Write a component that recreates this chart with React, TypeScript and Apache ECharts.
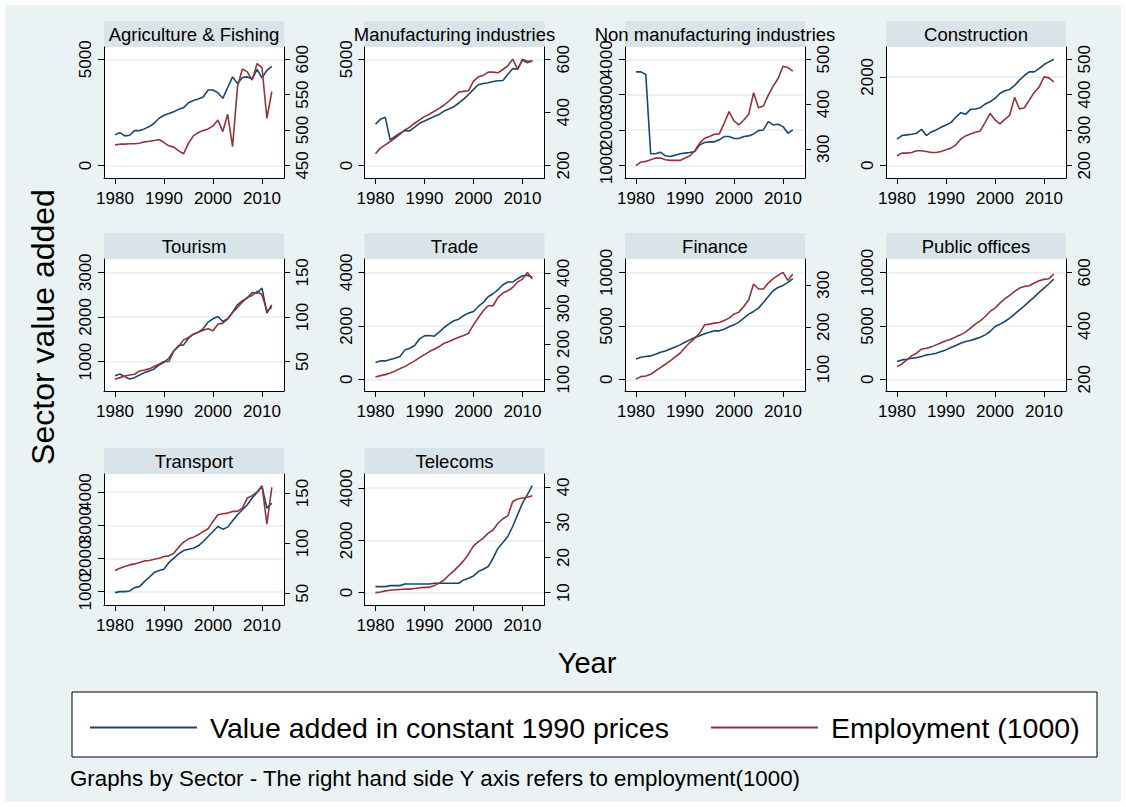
import React, { useEffect, useRef } from "react";
import * as echarts from "echarts";

// Observation years
const YEARS = [
  1980, 1981, 1982, 1983, 1984, 1985, 1986, 1987, 1988, 1989, 1990,
  1991, 1992, 1993, 1994, 1995, 1996, 1997, 1998, 1999, 2000,
  2001, 2002, 2003, 2004, 2005, 2006, 2007, 2008, 2009, 2010,
  2011, 2012,
];
const YEAR_TICKS = [1980, 1990, 2000, 2010];

const SECTOR_NAMES = [
  "Agriculture & Fishing",
  "Manufacturing industries",
  "Non manufacturing industries",
  "Construction",
  "Tourism",
  "Trade",
  "Finance",
  "Public offices",
  "Transport",
  "Telecoms",
];

// Value added in constant 1990 prices, by sector
const vaAgriculture = [1437, 1547, 1390, 1420, 1640, 1640, 1720, 1830, 1985, 2220, 2360, 2440, 2530, 2640, 2720, 2950, 3060, 3125, 3220, 3550, 3550, 3420, 3160, 3670, 4170, 3860, 4140, 4170, 4080, 4520, 4125, 4480, 4670];
const vaManufacturing = [1940, 2170, 2265, 1200, 1360, 1515, 1640, 1625, 1800, 1985, 2090, 2200, 2300, 2400, 2560, 2660, 2765, 2940, 3125, 3340, 3580, 3800, 3860, 3890, 3950, 3985, 4000, 4280, 4560, 4530, 5000, 4900, 4900];
const vaNonManufacturing = [3644, 3644, 3569, 1328, 1328, 1375, 1272, 1253, 1290, 1328, 1347, 1366, 1394, 1581, 1647, 1666, 1666, 1722, 1816, 1816, 1759, 1759, 1816, 1834, 1891, 1984, 2003, 2238, 2144, 2163, 2097, 1909, 2003];
const vaConstruction = [592, 674, 689, 704, 726, 816, 674, 756, 801, 861, 914, 966, 1086, 1191, 1153, 1266, 1273, 1303, 1386, 1438, 1513, 1625, 1685, 1715, 1805, 1925, 2030, 2112, 2112, 2187, 2277, 2337, 2397];
const vaTourism = [685, 723, 663, 611, 640, 700, 753, 790, 835, 925, 985, 1075, 1240, 1360, 1375, 1524, 1614, 1659, 1734, 1884, 1959, 2011, 1899, 1959, 2109, 2273, 2363, 2423, 2550, 2535, 2648, 2086, 2273];
const vaTrade = [625, 688, 688, 738, 788, 850, 1100, 1163, 1263, 1513, 1625, 1638, 1613, 1763, 1938, 2075, 2188, 2250, 2388, 2475, 2538, 2725, 2875, 3088, 3200, 3350, 3538, 3638, 3638, 3763, 3875, 3888, 3813];
const vaFinance = [1906, 2063, 2125, 2188, 2344, 2531, 2656, 2844, 3031, 3219, 3469, 3688, 3906, 4063, 4250, 4406, 4531, 4531, 4688, 4906, 5094, 5344, 5719, 6094, 6344, 6656, 7188, 7750, 8281, 8594, 8781, 9063, 9406];
const vaPublic = [1656, 1813, 1875, 1969, 2031, 2125, 2281, 2344, 2438, 2594, 2750, 2969, 3156, 3375, 3531, 3625, 3781, 3938, 4156, 4469, 4938, 5156, 5406, 5719, 6094, 6500, 6875, 7281, 7688, 8125, 8531, 8938, 9375];
const vaTransport = [970, 1000, 1000, 1020, 1121, 1151, 1302, 1433, 1574, 1634, 1675, 1876, 2007, 2138, 2239, 2279, 2309, 2380, 2511, 2662, 2813, 2964, 2883, 2944, 3135, 3316, 3467, 3618, 3820, 3991, 4172, 3518, 3669];
const vaTelecoms = [230, 230, 230, 268, 268, 268, 332, 332, 332, 332, 332, 332, 358, 358, 358, 358, 358, 358, 486, 550, 639, 805, 895, 997, 1316, 1700, 1917, 2147, 2530, 2978, 3425, 3745, 4090];

// Employment (1000), by sector
const empAgriculture = [479, 480, 480, 480.5, 480.5, 481.4, 483.3, 484.2, 485.2, 486.6, 482.3, 477.7, 475.8, 470.6, 466.4, 481.4, 491.7, 496.4, 499.2, 501.6, 505.8, 514.2, 497.8, 522.2, 476.7, 561.1, 586.4, 582.2, 570.5, 593.9, 588.3, 516.6, 554.1];
const empManufacturing = [243.8, 265, 277.5, 290, 302.5, 317.5, 333.8, 343.8, 358.8, 371.3, 383.8, 392.5, 403.8, 415, 427.5, 442.5, 458.8, 476.3, 478.8, 481.3, 517.5, 533.8, 538.8, 551.3, 551.3, 548.8, 561.3, 575, 600, 562.5, 596.3, 586.3, 593.8];
const empNonManufacturing = [262.2, 270.4, 271.9, 275.6, 279.3, 279.3, 275.6, 274.1, 274.1, 274.1, 279.3, 284.4, 295.6, 312.6, 323.7, 327.4, 332.6, 333.3, 357, 383, 362.2, 353.3, 364.4, 377, 425.2, 391.9, 395.6, 420, 440, 457, 484.4, 481.5, 473.3];
const empConstruction = [227.2, 234.7, 234.7, 236.6, 241.3, 241.3, 239.4, 236.6, 236.6, 239.4, 244.1, 248.8, 258.1, 274.1, 283.4, 289.1, 293.8, 297.5, 321.9, 347.2, 328.4, 317.2, 330.3, 341.6, 392.2, 359.4, 363.1, 384.7, 406.3, 421.3, 450.3, 447.5, 436.3];
const empTourism = [30.2, 32, 33.9, 35, 35.8, 39.5, 40.6, 41.8, 44.4, 47, 50, 50, 62, 66.9, 74.3, 77, 80.7, 83, 85.2, 86.7, 84.5, 91.9, 93.1, 97.6, 105.1, 110.7, 116.7, 121.9, 124.2, 128.6, 124.9, 106.9, 110.7];
const empTrade = [106.6, 110.4, 113.2, 117.9, 123.6, 130.2, 135.8, 144.3, 151.9, 161.3, 169.8, 178.3, 184.9, 192.4, 201.8, 206.6, 213.2, 218.8, 223.5, 230.1, 253.7, 274.5, 293.3, 307.5, 307.5, 331, 343.3, 349.9, 359.3, 374.4, 382.9, 401.8, 382.9];
const empFinance = [76.2, 81.7, 83.3, 87.3, 95.2, 103.2, 111.1, 119.1, 128.6, 137.3, 150.8, 162.7, 173, 185, 204.8, 206.4, 208.8, 210.4, 215.1, 220.7, 230.2, 235, 248.5, 264.4, 301.7, 289.8, 289.8, 304.1, 314.4, 322.3, 329.5, 310.4, 325.5];
const empPublic = [247.5, 257.5, 272.5, 287.5, 297.5, 312.5, 316.3, 321.3, 328.8, 336.3, 343.8, 350, 358.8, 366.3, 376.3, 391.3, 406.3, 418.8, 435, 453.8, 466.3, 485, 501.3, 513.8, 528.8, 541.3, 547.5, 550, 560, 568.8, 573.8, 576.3, 593.8];
const empTransport = [72.7, 75, 76.7, 78.3, 79.3, 80.7, 82.3, 82.7, 84, 85, 86.7, 87.3, 90, 96, 101, 104.3, 106, 108.3, 111.7, 114.3, 121.7, 128.3, 129.3, 130, 131.7, 131.7, 135, 145, 147.3, 151, 157.3, 119, 155.7];
const empTelecoms = [10, 10.2, 10.5, 10.7, 10.8, 10.9, 11, 11, 11.2, 11.4, 11.5, 11.5, 12, 12.7, 13.6, 15, 16.2, 17.6, 19.1, 21, 23.3, 24.5, 25.5, 26.9, 27.8, 29.7, 31, 31.8, 35.9, 36.6, 36.9, 37.1, 37.5];

// Tick labels of the left (value added) and right (employment) axes
const leftTicks = [
  [0, 5000], [0, 5000], [1000, 2000, 3000, 4000], [0, 2000],
  [1000, 2000, 3000], [0, 2000, 4000], [0, 5000, 10000], [0, 5000, 10000],
  [1000, 2000, 3000, 4000], [0, 2000, 4000],
];
const rightTicks = [
  [450, 500, 550, 600], [200, 400, 600], [300, 400, 500], [200, 300, 400, 500],
  [50, 100, 150], [100, 200, 300, 400], [100, 200, 300], [200, 400, 600],
  [50, 100, 150], [10, 20, 30, 40],
];

const VA_SERIES = [vaAgriculture, vaManufacturing, vaNonManufacturing, vaConstruction, vaTourism, vaTrade, vaFinance, vaPublic, vaTransport, vaTelecoms];
const EMP_SERIES = [empAgriculture, empManufacturing, empNonManufacturing, empConstruction, empTourism, empTrade, empFinance, empPublic, empTransport, empTelecoms];

// Axis extents (with the plot-region margin around the data)
const LEFT_RANGE = [
  [-594, 5578], [-594, 5578], [644, 4347], [-285, 2674],
  [341, 3299], [-438, 4500], [-1094, 11250], [-1094, 11250],
  [597, 4545], [-473, 4537],
];
const RIGHT_RANGE = [
  [432.2, 617.3], [152.5, 646], [234.8, 527.4], [164.4, 534.7],
  [17, 165], [67, 439.5], [47.6, 361.2], [156.25, 650],
  [38.3, 169], [6.49, 43.7],
];

const VA_NAME = "Value added in constant 1990 prices";
const EMP_NAME = "Employment (1000)";

const BLUE = "#1a476f";
const RED = "#90353b";
const BG = "#eaf2f3";
const STRIP = "#d8e4e9";
const GRIDLINE = "#e4edf0";
const FONT = "'Liberation Sans', Arial, Helvetica, sans-serif";

const COL_X = [104, 364.5, 625, 886];
const ROW_TOP = [47, 259, 474];
const ROW_H = [131, 132, 131];
const PLOT_W = 180;
const STRIP_H = 26;
const X_MIN = 1977.76;
const X_MAX = 2014.49;

function buildOption() {
  const grid: any[] = [];
  const xAxis: any[] = [];
  const yAxis: any[] = [];
  const extraAxes: any[] = [];
  const series: any[] = [];
  const graphic: any[] = [];

  const tickLabel = {
    fontSize: 17, color: "#000", fontFamily: FONT,
    showMinLabel: true, showMaxLabel: true, hideOverlap: false,
    formatter: (v: number) => String(v),
  };

  SECTOR_NAMES.forEach((name, i) => {
    const col = i % 4;
    const row = Math.floor(i / 4);
    const left = COL_X[col];
    const top = ROW_TOP[row];
    const h = ROW_H[row];

    grid.push({
      left, top, width: PLOT_W, height: h,
      show: true, backgroundColor: "#ffffff", borderWidth: 0,
    });

    xAxis.push({
      type: "value", gridIndex: i, min: X_MIN, max: X_MAX,
      axisLine: { show: true, onZero: false, lineStyle: { color: "#000", width: 1 } },
      axisTick: { show: true, length: 6, customValues: YEAR_TICKS, lineStyle: { color: "#000" } },
      axisLabel: { ...tickLabel, customValues: YEAR_TICKS, margin: 12 },
      splitLine: { show: false },
    });

    // Left labels are split over two axes (alternate values) so that
    // long labels on dense axes are all drawn even where they touch.
    const evenLabels = leftTicks[i].filter((_, k) => k % 2 === 0);
    const oddLabels = leftTicks[i].filter((_, k) => k % 2 === 1);

    yAxis.push({
      type: "value", gridIndex: i, position: "left",
      min: LEFT_RANGE[i][0], max: LEFT_RANGE[i][1],
      axisLine: { show: true, onZero: false, lineStyle: { color: "#000", width: 1 } },
      axisTick: { show: true, length: 6, customValues: leftTicks[i], lineStyle: { color: "#000" } },
      axisLabel: { ...tickLabel, customValues: evenLabels, rotate: 90, margin: 10 },
      splitLine: { show: true, lineStyle: { color: GRIDLINE, width: 1.5 } },
    });

    yAxis.push({
      type: "value", gridIndex: i, position: "right",
      min: RIGHT_RANGE[i][0], max: RIGHT_RANGE[i][1],
      axisLine: { show: true, onZero: false, lineStyle: { color: "#000", width: 1 } },
      axisTick: { show: true, length: 6, customValues: rightTicks[i], lineStyle: { color: "#000" } },
      axisLabel: { ...tickLabel, customValues: rightTicks[i], rotate: 90, margin: 10 },
      splitLine: { show: false },
    });

    if (oddLabels.length) {
      extraAxes.push({
        type: "value", gridIndex: i, position: "left", offset: 0,
        min: LEFT_RANGE[i][0], max: LEFT_RANGE[i][1],
        axisLine: { show: false, onZero: false },
        axisTick: { show: false, customValues: oddLabels },
        axisLabel: { ...tickLabel, customValues: oddLabels, rotate: 90, margin: 10 },
        splitLine: { show: false },
      });
    }

    series.push({
      type: "line", name: VA_NAME, xAxisIndex: i, yAxisIndex: 2 * i,
      data: YEARS.map((y, k) => [y, VA_SERIES[i][k]]),
      showSymbol: false, symbol: "none", z: 2,
      lineStyle: { color: BLUE, width: 1.6 }, itemStyle: { color: BLUE },
    });
    series.push({
      type: "line", name: EMP_NAME, xAxisIndex: i, yAxisIndex: 2 * i + 1,
      data: YEARS.map((y, k) => [y, EMP_SERIES[i][k]]),
      showSymbol: false, symbol: "none", z: 3,
      lineStyle: { color: RED, width: 1.6 }, itemStyle: { color: RED },
    });

    // panel heading strip
    graphic.push({
      type: "rect", z: 0,
      shape: { x: left, y: top - STRIP_H, width: PLOT_W, height: STRIP_H },
      style: { fill: STRIP },
    });
    graphic.push({
      type: "text", z: 1, x: left + PLOT_W / 2, y: top - STRIP_H / 2,
      style: {
        text: name, fill: "#000", fontSize: 18.5, fontFamily: FONT,
        textAlign: "center", textVerticalAlign: "middle",
      },
    });
  });

  // outer frame
  graphic.unshift({
    type: "rect", z: -1,
    shape: { x: 0, y: 0, width: 1126, height: 807 },
    style: { fill: BG, stroke: "#ffffff", lineWidth: 10 },
  });

  // axis titles
  graphic.push({
    type: "text", z: 1, x: 587, y: 663,
    style: { text: "Year", fill: "#000", fontSize: 29, fontFamily: FONT, textAlign: "center", textVerticalAlign: "middle" },
  });
  graphic.push({
    type: "text", z: 1, x: 43, y: 327, rotation: Math.PI / 2,
    style: { text: "Sector value added", fill: "#000", fontSize: 32, fontFamily: FONT, textAlign: "center", textVerticalAlign: "middle" },
  });

  // legend frame
  graphic.push({
    type: "rect", z: 0,
    shape: { x: 72, y: 692, width: 1025, height: 65 },
    style: { fill: "#ffffff", stroke: "#000000", lineWidth: 1 },
  });

  // note
  graphic.push({
    type: "text", z: 1, x: 70, y: 778,
    style: {
      text: "Graphs by Sector - The right hand side Y axis refers to employment(1000)",
      fill: "#000", fontSize: 22.3, fontFamily: FONT, textAlign: "left", textVerticalAlign: "middle",
    },
  });

  return {
    animation: false,
    backgroundColor: BG,
    grid, xAxis, yAxis: [...yAxis, ...extraAxes], series, graphic,
    legend: {
      z: 10,
      left: 85, top: 708,
      icon: "rect", itemWidth: 107, itemHeight: 2, itemGap: 42,
      data: [VA_NAME, EMP_NAME],
      textStyle: { fontSize: 28.5, color: "#000", fontFamily: FONT, padding: [0, 0, 0, 8] },
      selectedMode: false,
    },
  };
}

export default function App() {
  const ref = useRef<HTMLDivElement>(null);
  useEffect(() => {
    if (!ref.current) return;
    const chart = echarts.init(ref.current, undefined, { renderer: "svg" });
    chart.setOption(buildOption());
    return () => chart.dispose();
  }, []);
  return (
    <div
      ref={ref}
      style={{ position: "absolute", left: 0, top: 0, width: 1126, height: 807 }}
    />
  );
}
